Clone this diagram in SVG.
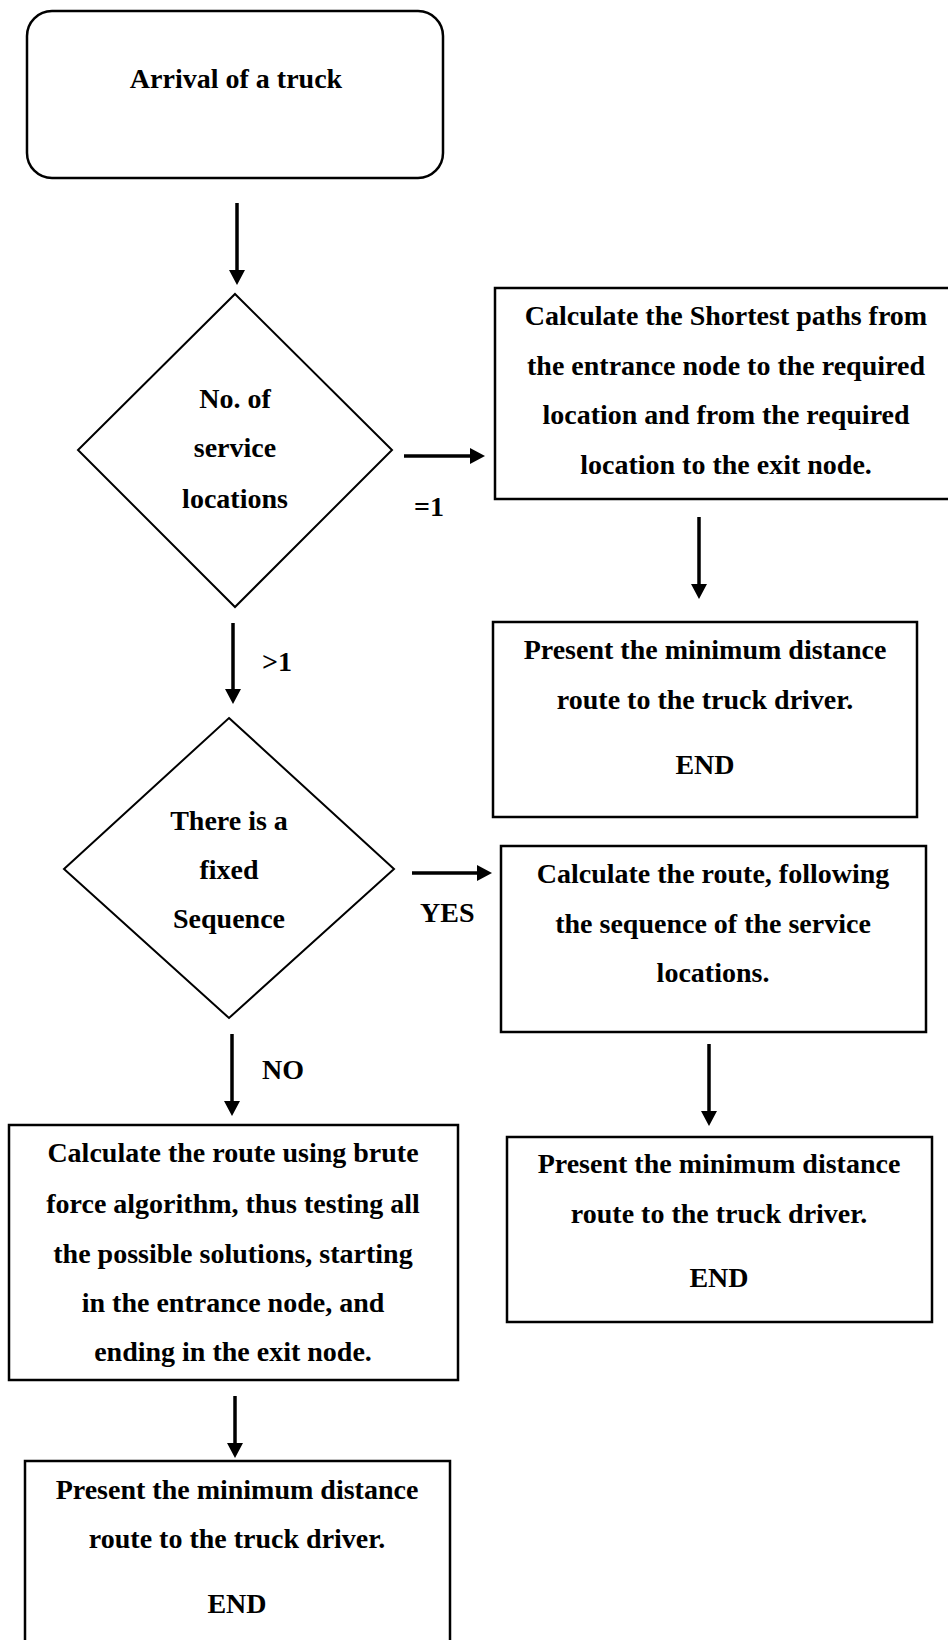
<svg xmlns="http://www.w3.org/2000/svg" width="948" height="1640" viewBox="0 0 948 1640">
<style>
  .shape { fill: #ffffff; stroke: #000000; stroke-width: 2.5; }
  .dia { fill: #ffffff; stroke: #000000; stroke-width: 2; }
  .t { font-family: "Liberation Serif", "Times New Roman", serif; font-weight: bold; font-size: 28px; fill: #000000; text-anchor: middle; }
  .lbl { font-family: "Liberation Serif", "Times New Roman", serif; font-weight: bold; font-size: 28px; fill: #000000; }
  .conn { stroke: #000000; stroke-width: 3.5; fill: none; marker-end: url(#ah); }
</style>
<defs>
  <marker id="ah" markerUnits="userSpaceOnUse" viewBox="0 0 15 16" markerWidth="15" markerHeight="16" refX="0" refY="8" orient="auto">
    <path d="M0,0 L15,8 L0,16 Z" fill="#000000"/>
  </marker>
</defs>
<rect x="0" y="0" width="948" height="1640" fill="#ffffff"/>

<g id="connectors">
  <line class="conn" x1="237" y1="203" x2="237" y2="270"/>
  <line class="conn" x1="404" y1="456" x2="470" y2="456"/>
  <line class="conn" x1="699" y1="517" x2="699" y2="584"/>
  <line class="conn" x1="233" y1="623" x2="233" y2="689"/>
  <line class="conn" x1="412" y1="873" x2="477" y2="873"/>
  <line class="conn" x1="709" y1="1044" x2="709" y2="1111"/>
  <line class="conn" x1="232" y1="1034" x2="232" y2="1101"/>
  <line class="conn" x1="235" y1="1396" x2="235" y2="1443"/>
  <text class="lbl" x="414" y="516">=1</text>
  <text class="lbl" x="262" y="671">&gt;1</text>
  <text class="lbl" x="420" y="922">YES</text>
  <text class="lbl" x="262" y="1079">NO</text>
</g>

<g id="start">
  <rect class="shape" x="27" y="11" width="416" height="167" rx="25" ry="25"/>
  <text class="t" x="236" y="88">Arrival of a truck</text>
</g>

<g id="decision-count">
  <polygon class="dia" points="235,294 392,450 235,607 78,450"/>
  <text class="t" x="235" y="408">No. of</text>
  <text class="t" x="235" y="457">service</text>
  <text class="t" x="235" y="508">locations</text>
</g>

<g id="shortest-paths">
  <rect class="shape" x="495" y="288" width="460" height="211"/>
  <text class="t" x="726" y="325">Calculate the Shortest paths from</text>
  <text class="t" x="726" y="375">the entrance node to the required</text>
  <text class="t" x="726" y="424">location and from the required</text>
  <text class="t" x="726" y="474">location to the exit node.</text>
</g>

<g id="present-1">
  <rect class="shape" x="493" y="622" width="424" height="195"/>
  <text class="t" x="705" y="659">Present the minimum distance</text>
  <text class="t" x="705" y="709">route to the truck driver.</text>
  <text class="t" x="705" y="774">END</text>
</g>

<g id="decision-sequence">
  <polygon class="dia" points="229,718 394,869 229,1018 64,869"/>
  <text class="t" x="229" y="830">There is a</text>
  <text class="t" x="229" y="879">fixed</text>
  <text class="t" x="229" y="928">Sequence</text>
</g>

<g id="sequence-route">
  <rect class="shape" x="501" y="846" width="425" height="186"/>
  <text class="t" x="713" y="883">Calculate the route, following</text>
  <text class="t" x="713" y="933">the sequence of the service</text>
  <text class="t" x="713" y="982">locations.</text>
</g>

<g id="present-2">
  <rect class="shape" x="507" y="1137" width="425" height="185"/>
  <text class="t" x="719" y="1173">Present the minimum distance</text>
  <text class="t" x="719" y="1223">route to the truck driver.</text>
  <text class="t" x="719" y="1287">END</text>
</g>

<g id="brute-force">
  <rect class="shape" x="9" y="1125" width="449" height="255"/>
  <text class="t" x="233" y="1162">Calculate the route using brute</text>
  <text class="t" x="233" y="1213">force algorithm, thus testing all</text>
  <text class="t" x="233" y="1263">the possible solutions, starting</text>
  <text class="t" x="233" y="1312">in the entrance node, and</text>
  <text class="t" x="233" y="1361">ending in the exit node.</text>
</g>

<g id="present-3">
  <rect class="shape" x="25" y="1461" width="425" height="190"/>
  <text class="t" x="237" y="1499">Present the minimum distance</text>
  <text class="t" x="237" y="1548">route to the truck driver.</text>
  <text class="t" x="237" y="1613">END</text>
</g>
</svg>
